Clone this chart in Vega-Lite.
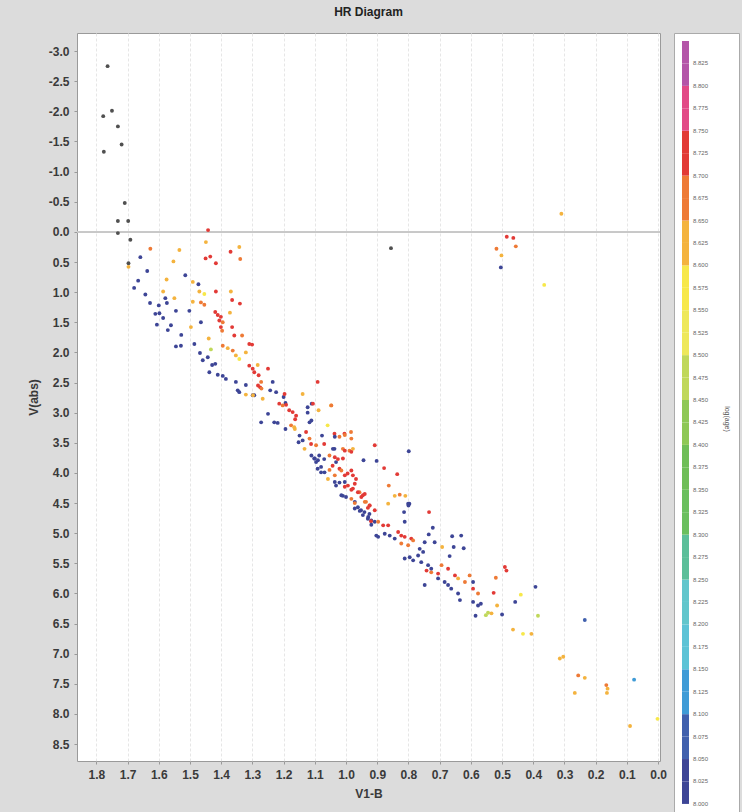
{
"$schema": "https://vega.github.io/schema/vega-lite/v6.json",
"background": "#dcdcdc",
"padding": {"left": 27, "top": 5, "right": 2, "bottom": 0},
"width": 583,
"height": 728,
"title": {"text": "HR Diagram", "fontSize": 12, "fontWeight": "bold", "font": "Liberation Sans", "color": "#222222", "frame": "group", "anchor": "middle", "offset": 14},
"data": {"values": [
{"bv":1.764,"v":-2.75,"age":null},{"bv":1.75,"v":-2.01,"age":null},{"bv":1.778,"v":-1.92,"age":null},{"bv":1.731,"v":-1.75,"age":null},{"bv":1.719,"v":-1.45,"age":null},{"bv":1.776,"v":-1.33,"age":null},{"bv":1.709,"v":-0.48,"age":null},{"bv":1.731,"v":-0.18,"age":null},{"bv":1.698,"v":-0.18,"age":null},{"bv":1.731,"v":0.02,"age":null},{"bv":1.691,"v":0.13,"age":null},{"bv":1.697,"v":0.52,"age":null},{"bv":0.856,"v":0.27,"age":null},
{"bv":1.442,"v":-0.03,"age":8.72},{"bv":1.449,"v":0.17,"age":8.61},{"bv":1.627,"v":0.28,"age":8.66},{"bv":1.534,"v":0.3,"age":8.61},{"bv":1.553,"v":0.49,"age":8.61},{"bv":1.659,"v":0.42,"age":8.02},{"bv":1.697,"v":0.58,"age":8.61},{"bv":1.45,"v":0.44,"age":8.72},{"bv":1.435,"v":0.41,"age":8.72},{"bv":1.417,"v":0.52,"age":8.72},{"bv":1.37,"v":0.33,"age":8.72},{"bv":1.342,"v":0.25,"age":8.61},{"bv":1.339,"v":0.45,"age":8.66},{"bv":1.637,"v":0.65,"age":8.02},{"bv":1.666,"v":0.81,"age":8.02},{"bv":1.515,"v":0.72,"age":8.02},{"bv":1.575,"v":0.79,"age":8.61},{"bv":1.491,"v":0.83,"age":8.61},{"bv":1.473,"v":0.87,"age":8.02},{"bv":1.679,"v":0.93,"age":8.02},
{"bv":0.31,"v":-0.3,"age":8.63},{"bv":0.485,"v":0.08,"age":8.72},{"bv":0.464,"v":0.1,"age":8.72},{"bv":0.456,"v":0.24,"age":8.66},{"bv":0.518,"v":0.28,"age":8.66},{"bv":0.502,"v":0.39,"age":8.61},{"bv":0.504,"v":0.59,"age":8.02},{"bv":0.365,"v":0.88,"age":8.56},
{"bv":0.908,"v":3.54,"age":8.72},{"bv":0.799,"v":3.64,"age":8.02},{"bv":0.902,"v":3.8,"age":8.02},{"bv":0.878,"v":3.92,"age":8.72},{"bv":0.836,"v":4.02,"age":8.72},{"bv":0.863,"v":4.21,"age":8.66},{"bv":0.844,"v":4.38,"age":8.61},{"bv":0.828,"v":4.36,"age":8.66},{"bv":0.81,"v":4.38,"age":8.61},{"bv":0.8,"v":4.54,"age":8.02},{"bv":0.797,"v":4.51,"age":8.02},{"bv":0.734,"v":4.65,"age":8.72},
{"bv":0.722,"v":4.91,"age":8.02},{"bv":0.735,"v":5.02,"age":8.02},{"bv":0.716,"v":5.15,"age":8.02},{"bv":0.66,"v":5.05,"age":8.02},{"bv":0.631,"v":5.04,"age":8.02},{"bv":0.655,"v":5.23,"age":8.02},{"bv":0.623,"v":5.25,"age":8.02},{"bv":0.668,"v":5.38,"age":8.02},{"bv":0.692,"v":5.23,"age":8.61},{"bv":0.491,"v":5.56,"age":8.72},{"bv":0.486,"v":5.62,"age":8.72},{"bv":0.52,"v":5.74,"age":8.66},{"bv":0.393,"v":5.89,"age":8.02},{"bv":0.44,"v":6.02,"age":8.56},{"bv":0.458,"v":6.14,"age":8.02},{"bv":0.527,"v":5.99,"age":8.72},{"bv":0.516,"v":6.2,"age":8.61},{"bv":0.5,"v":6.35,"age":8.02},{"bv":0.545,"v":6.32,"age":8.47},{"bv":0.534,"v":6.33,"age":8.61},{"bv":0.552,"v":6.36,"age":8.47},{"bv":0.585,"v":6.37,"age":8.02},{"bv":0.385,"v":6.37,"age":8.47},{"bv":0.235,"v":6.44,"age":8.07},{"bv":0.465,"v":6.6,"age":8.61},{"bv":0.433,"v":6.67,"age":8.56},{"bv":0.406,"v":6.67,"age":8.61},{"bv":0.315,"v":7.08,"age":8.63},{"bv":0.304,"v":7.05,"age":8.61},{"bv":0.256,"v":7.36,"age":8.66},{"bv":0.235,"v":7.4,"age":8.63},{"bv":0.267,"v":7.65,"age":8.61},{"bv":0.166,"v":7.52,"age":8.66},{"bv":0.162,"v":7.58,"age":8.61},{"bv":0.164,"v":7.65,"age":8.63},{"bv":0.077,"v":7.43,"age":8.12},{"bv":0.09,"v":8.2,"age":8.63},{"bv":0.002,"v":8.08,"age":8.56},
{"bv":1.643,"v":1.04,"age":8.02},{"bv":1.628,"v":1.18,"age":8.02},{"bv":1.6,"v":1.22,"age":8.02},{"bv":1.579,"v":1.1,"age":8.02},{"bv":1.574,"v":1.18,"age":8.02},{"bv":1.611,"v":1.36,"age":8.02},{"bv":1.598,"v":1.35,"age":8.02},{"bv":1.586,"v":1.43,"age":8.02},{"bv":1.606,"v":1.54,"age":8.02},{"bv":1.545,"v":1.31,"age":8.02},{"bv":1.502,"v":1.31,"age":8.02},{"bv":1.571,"v":1.63,"age":8.02},{"bv":1.561,"v":1.55,"age":8.02},{"bv":1.528,"v":1.71,"age":8.02},{"bv":1.545,"v":1.9,"age":8.02},{"bv":1.529,"v":1.89,"age":8.02},{"bv":1.486,"v":1.86,"age":8.02},{"bv":1.465,"v":1.5,"age":8.02},{"bv":1.468,"v":2.01,"age":8.02},{"bv":1.459,"v":2.13,"age":8.02},{"bv":1.443,"v":2.08,"age":8.02},{"bv":1.429,"v":2.21,"age":8.02},{"bv":1.419,"v":2.19,"age":8.02},{"bv":1.438,"v":2.33,"age":8.02},{"bv":1.411,"v":2.37,"age":8.02},{"bv":1.395,"v":2.39,"age":8.02},{"bv":1.385,"v":2.44,"age":8.02},{"bv":1.353,"v":2.49,"age":8.02},{"bv":1.347,"v":2.63,"age":8.02},{"bv":1.342,"v":2.66,"age":8.02},{"bv":1.321,"v":2.54,"age":8.02},{"bv":1.299,"v":2.71,"age":8.02},{"bv":1.235,"v":2.49,"age":8.02},{"bv":1.243,"v":2.63,"age":8.02},{"bv":1.224,"v":2.66,"age":8.02},{"bv":1.25,"v":3.02,"age":8.02},{"bv":1.272,"v":3.16,"age":8.02},{"bv":1.23,"v":3.16,"age":8.02},{"bv":1.219,"v":3.17,"age":8.02},{"bv":1.2,"v":2.74,"age":8.02},{"bv":1.194,"v":2.84,"age":8.02},{"bv":1.194,"v":3.27,"age":8.02},{"bv":1.149,"v":3.38,"age":8.02},{"bv":1.139,"v":3.46,"age":8.02},{"bv":1.152,"v":3.49,"age":8.02},{"bv":1.123,"v":2.91,"age":8.02},{"bv":1.123,"v":3.0,"age":8.02},{"bv":1.117,"v":3.16,"age":8.02},{"bv":1.11,"v":2.85,"age":8.02},{"bv":1.102,"v":3.76,"age":8.02},{"bv":1.096,"v":3.82,"age":8.02},{"bv":1.086,"v":3.71,"age":8.02},{"bv":1.077,"v":3.38,"age":8.02},{"bv":1.037,"v":3.6,"age":8.02},{"bv":1.032,"v":3.82,"age":8.02},{"bv":1.032,"v":4.21,"age":8.02},{"bv":1.021,"v":4.16,"age":8.02},{"bv":1.01,"v":4.38,"age":8.02},{"bv":1.0,"v":4.4,"age":8.02},{"bv":1.091,"v":3.93,"age":8.02},{"bv":1.08,"v":3.99,"age":8.02},{"bv":0.962,"v":4.57,"age":8.02},{"bv":0.952,"v":4.62,"age":8.02},{"bv":0.941,"v":4.65,"age":8.02},{"bv":0.925,"v":4.68,"age":8.02},{"bv":0.944,"v":3.79,"age":8.02},
{"bv":1.586,"v":0.99,"age":8.61},{"bv":1.47,"v":0.99,"age":8.61},{"bv":1.454,"v":1.03,"age":8.56},{"bv":1.417,"v":0.99,"age":8.72},{"bv":1.369,"v":0.99,"age":8.61},{"bv":1.365,"v":1.13,"age":8.72},{"bv":1.34,"v":1.19,"age":8.72},{"bv":1.465,"v":1.17,"age":8.66},{"bv":1.454,"v":1.21,"age":8.66},{"bv":1.491,"v":1.16,"age":8.61},{"bv":1.55,"v":1.1,"age":8.61},{"bv":1.419,"v":1.33,"age":8.72},{"bv":1.411,"v":1.38,"age":8.72},{"bv":1.401,"v":1.41,"age":8.72},{"bv":1.406,"v":1.47,"age":8.72},{"bv":1.395,"v":1.5,"age":8.66},{"bv":1.401,"v":1.58,"age":8.72},{"bv":1.397,"v":1.64,"age":8.66},{"bv":1.372,"v":1.34,"age":8.61},{"bv":1.365,"v":1.58,"age":8.72},{"bv":1.358,"v":1.72,"age":8.72},{"bv":1.333,"v":1.72,"age":8.66},{"bv":1.31,"v":1.86,"age":8.72},{"bv":1.301,"v":1.87,"age":8.72},{"bv":1.44,"v":1.77,"age":8.61},{"bv":1.433,"v":1.95,"age":8.47},{"bv":1.497,"v":1.58,"age":8.61},{"bv":1.395,"v":1.89,"age":8.66},{"bv":1.379,"v":1.93,"age":8.61},{"bv":1.363,"v":1.97,"age":8.66},{"bv":1.353,"v":2.05,"age":8.61},{"bv":1.342,"v":2.11,"age":8.56},{"bv":1.321,"v":2.0,"age":8.61},{"bv":1.31,"v":2.22,"age":8.72},{"bv":1.299,"v":2.27,"age":8.72},{"bv":1.294,"v":2.33,"age":8.72},{"bv":1.283,"v":2.21,"age":8.61},{"bv":1.28,"v":2.38,"age":8.72},{"bv":1.272,"v":2.49,"age":8.66},{"bv":1.275,"v":2.58,"age":8.72},{"bv":1.25,"v":2.27,"age":8.72},{"bv":1.321,"v":2.7,"age":8.61},{"bv":1.294,"v":2.71,"age":8.02},{"bv":1.267,"v":2.77,"age":8.61},{"bv":1.214,"v":2.85,"age":8.72},{"bv":1.203,"v":2.88,"age":8.66},{"bv":1.192,"v":2.87,"age":8.72},{"bv":1.182,"v":2.96,"age":8.72},{"bv":1.171,"v":2.99,"age":8.72},{"bv":1.16,"v":3.05,"age":8.72},{"bv":1.176,"v":3.21,"age":8.66},{"bv":1.166,"v":3.24,"age":8.61},{"bv":1.139,"v":2.69,"age":8.61},{"bv":1.091,"v":2.49,"age":8.72},{"bv":1.048,"v":2.88,"age":8.61},{"bv":1.088,"v":2.96,"age":8.61},{"bv":1.059,"v":3.21,"age":8.56},{"bv":1.128,"v":3.32,"age":8.72},{"bv":1.117,"v":3.43,"age":8.66},{"bv":1.112,"v":3.52,"age":8.72},{"bv":1.096,"v":3.54,"age":8.66},{"bv":1.07,"v":3.52,"age":8.72},{"bv":1.037,"v":3.35,"age":8.72},{"bv":1.021,"v":3.4,"age":8.66},{"bv":1.005,"v":3.35,"age":8.72},{"bv":0.984,"v":3.32,"age":8.66},{"bv":1.01,"v":3.6,"age":8.66},{"bv":0.989,"v":3.63,"age":8.66},{"bv":0.978,"v":3.6,"age":8.61},{"bv":1.053,"v":3.71,"age":8.66},{"bv":1.043,"v":3.88,"age":8.72},{"bv":1.021,"v":3.93,"age":8.72},{"bv":1.01,"v":3.76,"age":8.72},{"bv":0.995,"v":4.01,"age":8.72},{"bv":0.978,"v":4.04,"age":8.72},{"bv":0.968,"v":4.1,"age":8.72},{"bv":0.978,"v":4.26,"age":8.72},{"bv":0.957,"v":4.32,"age":8.66},{"bv":0.946,"v":4.37,"age":8.72},{"bv":0.936,"v":4.48,"age":8.66},{"bv":0.925,"v":4.54,"age":8.66},
{"bv":1.036,"v":4.15,"age":8.02},{"bv":1.004,"v":4.15,"age":8.02},{"bv":0.994,"v":4.21,"age":8.72},{"bv":0.972,"v":4.18,"age":8.72},{"bv":1.015,"v":4.37,"age":8.02},{"bv":0.972,"v":4.48,"age":8.02},{"bv":0.94,"v":4.48,"age":8.66},{"bv":0.924,"v":4.54,"age":8.72},{"bv":0.908,"v":4.62,"age":8.72},{"bv":0.929,"v":4.73,"age":8.02},{"bv":0.919,"v":4.79,"age":8.02},{"bv":0.908,"v":4.81,"age":8.02},{"bv":0.897,"v":4.81,"age":8.66},{"bv":0.881,"v":4.87,"age":8.72},{"bv":0.865,"v":4.87,"age":8.72},{"bv":0.865,"v":4.51,"age":8.61},{"bv":0.801,"v":4.51,"age":8.02},{"bv":0.814,"v":4.65,"age":8.02},{"bv":0.812,"v":4.81,"age":8.02},{"bv":0.897,"v":5.06,"age":8.02},{"bv":0.876,"v":5.01,"age":8.02},{"bv":0.86,"v":5.04,"age":8.02},{"bv":0.844,"v":5.09,"age":8.02},{"bv":0.833,"v":4.98,"age":8.72},{"bv":0.823,"v":5.04,"age":8.72},{"bv":0.812,"v":5.06,"age":8.72},{"bv":0.791,"v":5.09,"age":8.72},{"bv":0.823,"v":5.17,"age":8.66},{"bv":0.801,"v":5.2,"age":8.66},{"bv":0.785,"v":5.12,"age":8.66},{"bv":0.812,"v":5.42,"age":8.02},{"bv":0.796,"v":5.4,"age":8.02},{"bv":0.785,"v":5.45,"age":8.02},{"bv":0.769,"v":5.37,"age":8.02},{"bv":0.764,"v":5.26,"age":8.02},{"bv":0.753,"v":5.31,"age":8.02},{"bv":0.748,"v":5.15,"age":8.02},{"bv":0.759,"v":5.48,"age":8.02},{"bv":0.737,"v":5.53,"age":8.02},{"bv":0.727,"v":5.59,"age":8.02},{"bv":0.742,"v":5.62,"age":8.72},{"bv":0.727,"v":5.65,"age":8.66},{"bv":0.705,"v":5.67,"age":8.72},{"bv":0.705,"v":5.75,"age":8.02},{"bv":0.684,"v":5.81,"age":8.02},{"bv":0.673,"v":5.86,"age":8.02},{"bv":0.663,"v":5.92,"age":8.02},{"bv":0.694,"v":5.53,"age":8.66},{"bv":0.673,"v":5.59,"age":8.72},{"bv":0.651,"v":5.7,"age":8.72},{"bv":0.641,"v":5.75,"age":8.61},{"bv":0.619,"v":5.81,"age":8.66},{"bv":0.604,"v":5.7,"age":8.66},{"bv":0.593,"v":5.81,"age":8.02},{"bv":0.593,"v":5.92,"age":8.72},{"bv":0.748,"v":5.86,"age":8.02},{"bv":0.641,"v":6.0,"age":8.02},{"bv":0.635,"v":6.11,"age":8.02},{"bv":0.593,"v":6.14,"age":8.02},{"bv":0.577,"v":6.2,"age":8.02},{"bv":0.568,"v":6.17,"age":8.02},{"bv":0.577,"v":6.0,"age":8.66},
{"bv":1.282,"v":2.55,"age":8.72},{"bv":1.271,"v":2.6,"age":8.66},{"bv":1.298,"v":2.71,"age":8.61},{"bv":1.197,"v":2.69,"age":8.72},{"bv":1.106,"v":2.85,"age":8.72},{"bv":1.111,"v":3.13,"age":8.02},{"bv":1.047,"v":2.88,"age":8.66},{"bv":1.163,"v":3.11,"age":8.72},{"bv":1.164,"v":3.27,"age":8.61},{"bv":1.133,"v":3.6,"age":8.61},{"bv":1.111,"v":3.71,"age":8.02},{"bv":1.1,"v":3.76,"age":8.02},{"bv":1.09,"v":3.79,"age":8.02},{"bv":1.07,"v":3.77,"age":8.02},{"bv":1.036,"v":3.74,"age":8.72},{"bv":1.026,"v":3.77,"age":8.72},{"bv":1.036,"v":3.4,"age":8.02},{"bv":1.042,"v":3.6,"age":8.02},{"bv":1.004,"v":3.37,"age":8.66},{"bv":0.983,"v":3.43,"age":8.66},{"bv":1.004,"v":3.63,"age":8.72},{"bv":0.983,"v":3.65,"age":8.72},{"bv":1.08,"v":3.9,"age":8.02},{"bv":1.069,"v":3.99,"age":8.02},{"bv":1.053,"v":3.95,"age":8.66},{"bv":1.036,"v":4.04,"age":8.66},{"bv":1.058,"v":4.1,"age":8.61},{"bv":1.015,"v":3.96,"age":8.66},{"bv":1.004,"v":4.04,"age":8.72},{"bv":0.983,"v":3.96,"age":8.72},{"bv":1.004,"v":4.23,"age":8.72},{"bv":0.983,"v":4.28,"age":8.72},{"bv":0.962,"v":4.32,"age":8.72},{"bv":0.983,"v":4.43,"age":8.66},{"bv":0.972,"v":4.5,"age":8.66},{"bv":0.972,"v":4.59,"age":8.02},{"bv":0.956,"v":4.63,"age":8.02},{"bv":0.946,"v":4.7,"age":8.02},{"bv":0.951,"v":4.4,"age":8.72},{"bv":0.94,"v":4.35,"age":8.72},{"bv":0.93,"v":4.58,"age":8.72},{"bv":0.92,"v":4.8,"age":8.72},{"bv":0.93,"v":4.76,"age":8.02},{"bv":0.919,"v":4.86,"age":8.02},{"bv":0.903,"v":5.04,"age":8.02}
]},
"layer": [
{"mark": {"type": "rule", "color": "#c8c8c8", "strokeWidth": 1},
 "encoding": {"y": {"datum": 0, "type": "quantitative", "title": "V(abs)",
   "scale": {"domain": [-3.3, 8.78], "reverse": true, "nice": false, "zero": false},
   "axis": {"values": [-3,-2.5,-2,-1.5,-1,-0.5,0,0.5,1,1.5,2,2.5,3,3.5,4,4.5,5,5.5,6,6.5,7,7.5,8,8.5], "format": ".1f", "labelExpr": "replace(datum.label, '\u2212', '-')", "labelOverlap": false}}}},
{"transform": [{"filter": "datum.age == null"}],
 "mark": {"type": "circle", "size": 15, "opacity": 1, "color": "#505050"},
 "encoding": {
  "x": {"field": "bv", "type": "quantitative", "title": "V1-B",
   "scale": {"domain": [-0.006, 1.862], "reverse": true, "nice": false, "zero": false},
   "axis": {"values": [0,0.1,0.2,0.3,0.4,0.5,0.6,0.7,0.8,0.9,1.0,1.1,1.2,1.3,1.4,1.5,1.6,1.7,1.8], "format": ".1f", "labelOverlap": false}},
  "y": {"field": "v", "type": "quantitative", "title": "V(abs)",
   "scale": {"domain": [-3.3, 8.78], "reverse": true, "nice": false, "zero": false},
   "axis": {"values": [-3,-2.5,-2,-1.5,-1,-0.5,0,0.5,1,1.5,2,2.5,3,3.5,4,4.5,5,5.5,6,6.5,7,7.5,8,8.5], "format": ".1f", "labelExpr": "replace(datum.label, '\u2212', '-')", "labelOverlap": false}}}},
{"transform": [{"filter": "datum.age != null"}],
 "mark": {"type": "circle", "size": 15, "opacity": 1},
 "encoding": {
  "x": {"field": "bv", "type": "quantitative", "title": "V1-B",
   "scale": {"domain": [-0.006, 1.862], "reverse": true, "nice": false, "zero": false},
   "axis": {"values": [0,0.1,0.2,0.3,0.4,0.5,0.6,0.7,0.8,0.9,1.0,1.1,1.2,1.3,1.4,1.5,1.6,1.7,1.8], "format": ".1f", "labelOverlap": false}},
  "y": {"field": "v", "type": "quantitative", "title": "V(abs)",
   "scale": {"domain": [-3.3, 8.78], "reverse": true, "nice": false, "zero": false},
   "axis": {"values": [-3,-2.5,-2,-1.5,-1,-0.5,0,0.5,1,1.5,2,2.5,3,3.5,4,4.5,5,5.5,6,6.5,7,7.5,8,8.5], "format": ".1f", "labelExpr": "replace(datum.label, '\u2212', '-')", "labelOverlap": false}},
  "color": {"field": "age", "type": "quantitative",
   "scale": {"type": "quantize", "domain": [7.9999, 8.85], "nice": false,
    "range": ["#3d4596","#4060ad","#3f9bd6","#5dc3d6","#62c6cc","#5cbf9a","#6abf5e","#6fbe58","#8ec856","#c0d85a","#eee85a","#f7e84a","#f4b33e","#ee7a36","#e23a36","#e24a86","#b455a8"]},
   "legend": {"type": "gradient", "direction": "vertical",
    "values": [7.9999,8,8.025,8.05,8.075,8.1,8.125,8.15,8.175,8.2,8.225,8.25,8.275,8.3,8.325,8.35,8.375,8.4,8.425,8.45,8.475,8.5,8.525,8.55,8.575,8.6,8.625,8.65,8.675,8.7,8.725,8.75,8.775,8.8,8.825],
    "format": ".3f", "gradientLength": 763, "gradientThickness": 7, "gradientStrokeWidth": 0,
    "labelFontSize": 6, "labelColor": "#666666", "labelFont": "Liberation Sans", "labelOverlap": false, "labelOffset": 4,
    "title": "log(age)", "titleOrient": "right", "titleAngle": 90, "titleFontSize": 7, "titleFontWeight": "normal", "titleColor": "#555555", "titleFont": "Liberation Sans", "titleAnchor": "middle", "titlePadding": 16,
    "fillColor": "white", "strokeColor": "#aaaaaa", "padding": 8, "offset": 14}}}}
],
"config": {
 "view": {"fill": "white", "stroke": "#9a9a9a"},
 "axis": {"labelFont": "Liberation Sans", "labelFontSize": 12, "labelFontWeight": "bold", "labelColor": "#3a3a3a",
  "titleFont": "Liberation Sans", "titleFontSize": 12, "titleFontWeight": "bold", "titleColor": "#3a3a3a",
  "gridColor": "#e6e6e6", "gridDash": [3, 2], "tickColor": "#999999", "tickSize": 3, "domain": false, "labelPadding": 5, "titlePadding": 8}
}
}
